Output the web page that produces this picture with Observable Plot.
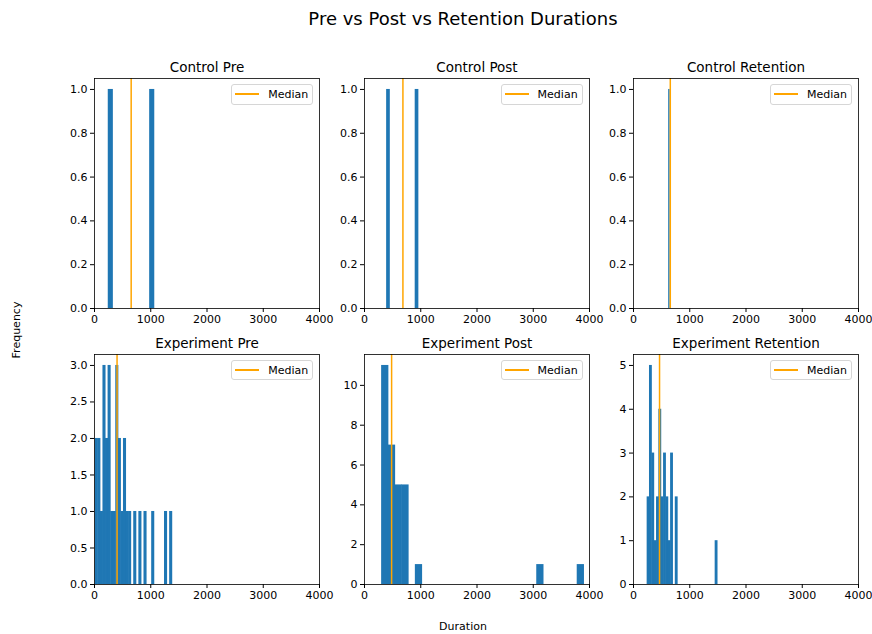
<!DOCTYPE html>
<html>
<head>
<meta charset="utf-8">
<script src="https://cdn.jsdelivr.net/npm/d3@7"></script>
<script src="https://cdn.jsdelivr.net/npm/@observablehq/plot@0.6"></script>
<style>
  html, body { margin: 0; padding: 0; background: #fff; }
  #fig { position: relative; width: 872px; height: 634px; overflow: hidden; font-family: "DejaVu Sans", sans-serif; color: #000; }
  .lbl { position: absolute; white-space: nowrap; line-height: 1; }
  .legend { position: absolute; box-sizing: border-box; width: 82px; height: 20.5px; border: 1px solid #d6d6d6; border-radius: 3px; background: rgba(255,255,255,0.85); }
  .legend .swatch { position: absolute; left: 3px; top: 8.3px; width: 24px; height: 1.5px; background: orange; }
  .legend .txt { position: absolute; left: 36px; top: 3px; font-size: 11px; line-height: 13px; color: #000; }
</style>
</head>
<body>
<div id="fig"></div>
<script>
// Histogram panels: duration counts per group and phase
const panelTitles = ["Control Pre", "Control Post", "Control Retention",
                     "Experiment Pre", "Experiment Post", "Experiment Retention"];

// first bin edge and bin width (in duration units) for each panel
const binStart = [249, 398, 630, 18, 309, 247];
const binWidth = [81.8, 56.4, 16, 45.6, 119.9, 41.7];

// counts per bin
const controlPreCounts = [1, 0, 0, 0, 0, 0, 0, 0, 0, 1];
const controlPostCounts = [1, 0, 0, 0, 0, 0, 0, 0, 0, 1];
const controlRetentionCounts = [1];
const experimentPreCounts = [2, 2, 1, 3, 2, 3, 1, 1, 3, 2, 1, 2, 1, 1, 0, 1, 0, 1, 0, 1,
                             0, 0, 1, 0, 0, 0, 0, 1, 0, 1];
const experimentPostCounts = [11, 7, 5, 5, 0, 1, 0, 0, 0, 0, 0, 0, 0, 0, 0, 0, 0, 0, 0, 0,
                              0, 0, 0, 1, 0, 0, 0, 0, 0, 1];
const experimentRetentionCounts = [2, 5, 3, 1, 2, 4, 2, 3, 2, 1, 3, 0, 2, 0, 0, 0, 0, 0, 0, 0,
                                   0, 0, 0, 0, 0, 0, 0, 0, 0, 1];
const panelCounts = [controlPreCounts, controlPostCounts, controlRetentionCounts,
                     experimentPreCounts, experimentPostCounts, experimentRetentionCounts];

// median duration per panel
const medians = [652, 683, 654, 401, 482, 463];

// axis ticks
const xTicks = [0, 1000, 2000, 3000, 4000];
const yTicksControl = [0, 0.2, 0.4, 0.6, 0.8, 1.0];
const yTicksExpPre = [0, 0.5, 1.0, 1.5, 2.0, 2.5, 3.0];
const yTicksExpPost = [0, 2, 4, 6, 8, 10];
const yTicksExpRetention = [0, 1, 2, 3, 4, 5];
const panelYTicks = [yTicksControl, yTicksControl, yTicksControl,
                     yTicksExpPre, yTicksExpPost, yTicksExpRetention];
const panelYFormat = [".1f", ".1f", ".1f", ".1f", "d", "d"];

const legendLabel = "Median";
const figTitle = "Pre vs Post vs Retention Durations";
const xLabel = "Duration";
const yLabel = "Frequency";

// ---- layout ----
const fig = document.getElementById("fig");
const frameLeft = [94.3, 363.6, 632.9];
const frameTop = [77.7, 353.5];
const frameW = 225, frameH = 230;
const M = {left: 44, right: 20, top: 30, bottom: 26};

panelTitles.forEach((title, i) => {
  const col = i % 3, row = Math.floor(i / 3);
  const counts = panelCounts[i];
  const bins = counts
    .map((c, k) => ({x1: binStart[i] + k * binWidth[i], x2: binStart[i] + (k + 1) * binWidth[i], count: c}))
    .filter(d => d.count > 0);
  const yTop = d3.max(counts) * 1.05;

  const chart = Plot.plot({
    width: M.left + frameW + M.right,
    height: M.top + frameH + M.bottom,
    marginLeft: M.left, marginRight: M.right, marginTop: M.top, marginBottom: M.bottom,
    style: {fontFamily: "DejaVu Sans, sans-serif", fontSize: "11px", color: "#000",
            background: "transparent", overflow: "visible"},
    x: {domain: [0, 4000], ticks: xTicks, tickFormat: "d", tickSize: 4, tickPadding: 3, label: null},
    y: {domain: [0, yTop], ticks: panelYTicks[i], tickFormat: panelYFormat[i],
        tickSize: 4, tickPadding: 3, label: null},
    marks: [
      Plot.rect(bins, {x1: "x1", x2: "x2", y1: 0, y2: "count", fill: "#1f77b4",
                       insetLeft: -0.25, insetRight: -0.25}),
      Plot.ruleX([medians[i]], {stroke: "orange", strokeWidth: 1.5}),
      Plot.frame({stroke: "#000", strokeWidth: 0.8}),
      Plot.text([title], {text: d => d, frameAnchor: "top", dy: -16, fontSize: 13.5, fill: "#000"})
    ]
  });
  chart.style.position = "absolute";
  chart.style.left = (frameLeft[col] - M.left) + "px";
  chart.style.top = (frameTop[row] - M.top) + "px";
  fig.appendChild(chart);

  // legend box in the upper right corner of each panel
  const lg = document.createElement("div");
  lg.className = "legend";
  lg.style.left = (frameLeft[col] + frameW - 6 - 82) + "px";
  lg.style.top = (frameTop[row] + 6.3) + "px";
  lg.innerHTML = `<div class="swatch"></div><div class="txt">${legendLabel}</div>`;
  fig.appendChild(lg);
});

// figure-level labels
function addLabel(text, x, y, size, rotate) {
  const el = document.createElement("div");
  el.className = "lbl";
  el.textContent = text;
  el.style.fontSize = size + "px";
  el.style.left = x + "px";
  el.style.top = y + "px";
  el.style.transform = `translate(-50%, -50%)${rotate ? " rotate(-90deg)" : ""}`;
  fig.appendChild(el);
}
addLabel(figTitle, 463, 19, 18, false);
addLabel(xLabel, 463, 626, 11, false);
addLabel(yLabel, 16, 330, 11, true);
</script>
</body>
</html>
